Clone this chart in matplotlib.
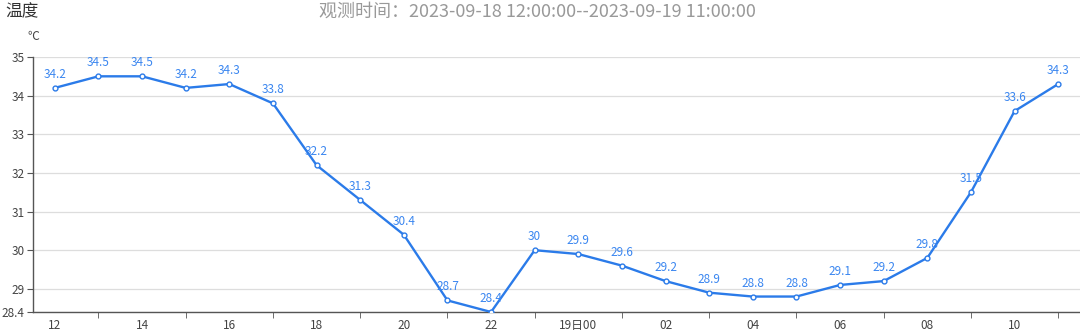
import matplotlib
matplotlib.use('Agg')
import matplotlib.pyplot as plt
import numpy as np

plt.rcParams['font.family'] = ['Noto Sans CJK SC', 'DejaVu Sans']

hours = ['12', '13', '14', '15', '16', '17', '18', '19', '20', '21', '22', '23',
         '19日00', '01', '02', '03', '04', '05', '06', '07', '08', '09', '10', '11']
temps = [34.2, 34.5, 34.5, 34.2, 34.3, 33.8, 32.2, 31.3, 30.4, 28.7, 28.4, 30,
         29.9, 29.6, 29.2, 28.9, 28.8, 28.8, 29.1, 29.2, 29.8, 31.5, 33.6, 34.3]
yticks = [28.4, 29, 30, 31, 32, 33, 34, 35]

line_color = '#2b7be9'
label_color = '#3a86f0'
axis_color = '#555555'

fig = plt.figure(figsize=(10.8, 3.35), dpi=100)
ax = fig.add_axes([33 / 1080, 23 / 335, 1 - 33 / 1080, (312 - 57) / 335])

x = np.arange(len(temps))
ax.plot(x, temps, color=line_color, linewidth=1.7, marker='o', markersize=3.5,
        markerfacecolor='white', markeredgecolor=line_color, markeredgewidth=1, zorder=3)

for xi, t in zip(x, temps):
    ax.annotate(f'{t:g}', (xi, t), xytext=(0, 5), textcoords='offset points',
                ha='center', va='bottom', fontsize=8.5, color=label_color)

ax.set_xlim(-0.5, len(temps) - 0.5)
ax.set_ylim(28.4, 35)
ax.set_yticks(yticks)
ax.set_yticklabels([f'{v:g}' for v in yticks])
ax.yaxis.grid(True, color='#dddddd', linewidth=0.9)
ax.set_axisbelow(True)

ax.set_xticks(x[::2])
ax.set_xticklabels(hours[::2])
ax.set_xticks(x[1::2], minor=True)
ax.tick_params(axis='x', which='major', length=0, pad=5, labelsize=8.5, colors='#444444')
ax.tick_params(axis='x', which='minor', length=4, color=axis_color)
ax.tick_params(axis='y', length=4, labelsize=8.5, colors='#444444', color=axis_color, pad=2)

for s in ['top', 'right']:
    ax.spines[s].set_visible(False)
for s in ['left', 'bottom']:
    ax.spines[s].set_color(axis_color)
    ax.spines[s].set_linewidth(1)

fig.text(5 / 1080, 1 - 12 / 335, '温度', fontsize=12, color='#333333', va='center', ha='left')
fig.text(537 / 1080, 1 - 12 / 335, '观测时间：2023-09-18 12:00:00--2023-09-19 11:00:00',
         fontsize=13, color='#999999', va='center', ha='center')
fig.text(33 / 1080, 1 - 37 / 335, '℃', fontsize=8.5, color='#444444', va='center', ha='center')

fig.savefig('out.png', dpi=100)
